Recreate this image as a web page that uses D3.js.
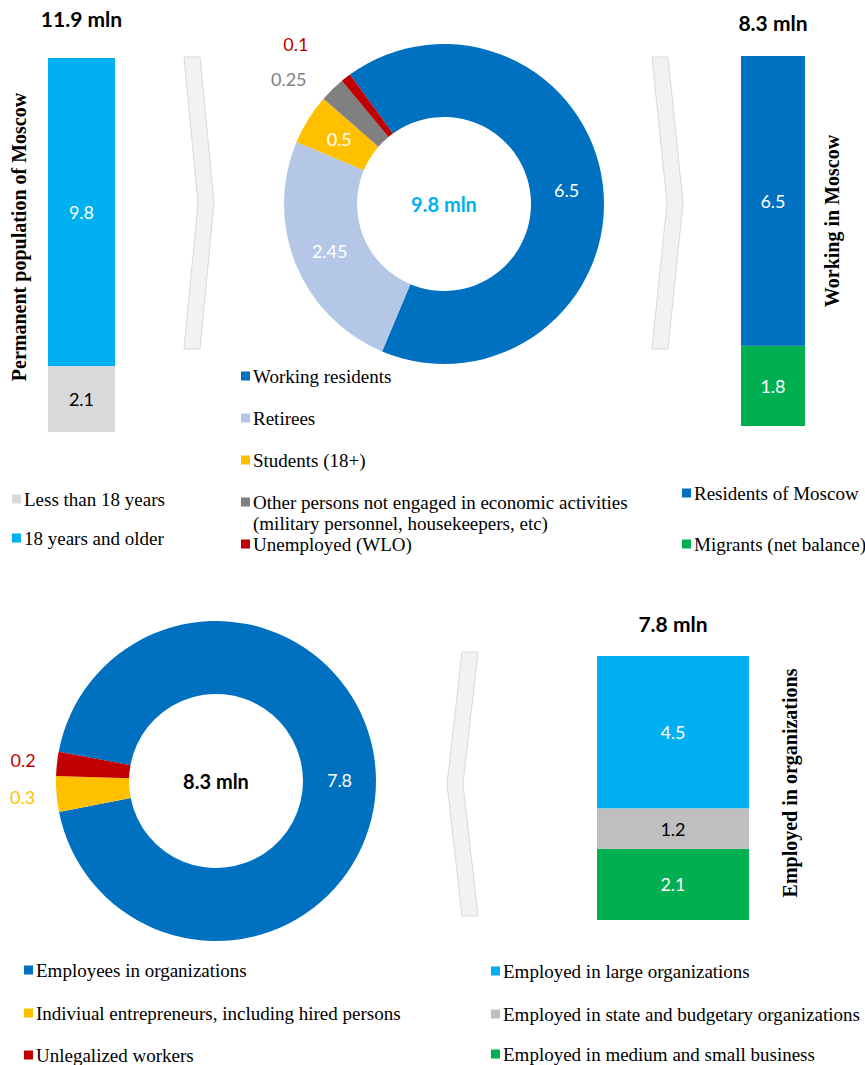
<!DOCTYPE html>
<html>
<head>
<meta charset="utf-8">
<script src="https://cdn.jsdelivr.net/npm/d3@7"></script>
<style>
  html, body { margin: 0; padding: 0; background: #fff; }
  svg { display: block; }
  .num { font-family: Lato, "Open Sans", sans-serif; }
  .serif, .serif text { font-family: "Liberation Serif", "Times New Roman", serif; }
</style>
</head>
<body>
<svg id="chart" width="865" height="1065"></svg>
<script>
// --- data ---
const popCats   = ['Less than 18 years', '18 years and older'];
const popVals   = [2.1, 9.8];
const popTotal  = '11.9 mln';

const actCats   = ['Working residents', 'Retirees', 'Students (18+)',
                   'Other persons not engaged in economic activities|(military personnel, housekeepers, etc)',
                   'Unemployed (WLO)'];
const actVals   = [6.5, 2.45, 0.5, 0.25, 0.1];
const actTotal  = '9.8 mln';

const workCats  = ['Residents of Moscow', 'Migrants (net balance)'];
const workVals  = [6.5, 1.8];
const workTotal = '8.3 mln';

const empCats   = ['Employees in organizations', 'Indiviual entrepreneurs, including hired persons', 'Unlegalized workers'];
const empVals   = [7.8, 0.3, 0.2];
const empTotal  = '8.3 mln';

const orgCats   = ['Employed in large organizations', 'Employed in state and budgetary organizations', 'Employed in medium and small business'];
const orgVals   = [4.5, 1.2, 2.1];
const orgTotal  = '7.8 mln';

// --- colours ---
const C = {
  blue: '#0070c0', cyan: '#00b0f0', lgray: '#d9d9d9', gray: '#bfbfbf', dgray: '#808080',
  steel: '#b4c7e7', yellow: '#ffc000', red: '#c00000', green: '#00b050'
};

const svg = d3.select('#chart');

// stacked single column, values listed bottom -> top
function column(vals, colors, textColors, o) {
  const y = d3.scaleLinear().domain([0, d3.sum(vals)]).range([o.bottom, o.top]);
  const g = svg.append('g');
  let acc = 0;
  const segs = vals.map((v, i) => { const s = { v, i, y0: acc, y1: acc + v }; acc += v; return s; });
  g.selectAll('rect').data(segs).join('rect')
    .attr('x', o.x).attr('width', o.w)
    .attr('y', d => y(d.y1)).attr('height', d => y(d.y0) - y(d.y1))
    .attr('fill', d => colors[d.i]);
  g.selectAll('text.val').data(segs).join('text')
    .attr('class', 'num val')
    .attr('x', o.x + o.w / 2).attr('y', d => (y(d.y0) + y(d.y1)) / 2)
    .attr('text-anchor', 'middle').attr('dominant-baseline', 'central')
    .attr('font-size', 18).attr('fill', d => textColors[d.i])
    .text(d => d.v);
  g.append('text').attr('class', 'num')
    .attr('x', o.x + o.w / 2).attr('y', o.titleY)
    .attr('text-anchor', 'middle').attr('font-size', 21).attr('font-weight', 700)
    .text(o.title);
  // rotated side label
  g.append('text').attr('class', 'serif')
    .attr('transform', `translate(${o.labelX},${o.labelY}) rotate(-90)`)
    .attr('text-anchor', 'middle').attr('dominant-baseline', 'central')
    .attr('font-size', 20).attr('font-weight', 700)
    .text(o.label);
}

function donut(vals, colors, o) {
  const rad = Math.PI / 180;
  const pie = d3.pie().sort(null).value(d => d)
    .startAngle(o.start * rad).endAngle(o.start * rad + 2 * Math.PI);
  const arc = d3.arc().innerRadius(o.ri).outerRadius(o.ro);
  const g = svg.append('g').attr('transform', `translate(${o.cx},${o.cy})`);
  const arcs = pie(vals);
  g.selectAll('path').data(arcs).join('path')
    .attr('d', arc).attr('fill', (d, i) => colors[i]);
  g.selectAll('text.val').data(arcs).join('text')
    .attr('class', 'num val')
    .attr('text-anchor', 'middle').attr('dominant-baseline', 'central')
    .attr('font-size', 18)
    .attr('fill', (d, i) => o.outside[i] ? colors[i] : '#fff')
    .attr('transform', (d, i) => {
      if (!o.outside[i]) return `translate(${arc.centroid(d)})`;
      const [dr, da] = o.outside[i];
      const a = (d.startAngle + d.endAngle) / 2 + da * rad;
      return `translate(${dr * Math.sin(a)},${-dr * Math.cos(a)})`;
    })
    .text(d => d.data);
  g.append('text').attr('class', 'num')
    .attr('text-anchor', 'middle').attr('dominant-baseline', 'central')
    .attr('font-size', 20).attr('font-weight', 700).attr('fill', o.centerColor)
    .text(o.center);
}

function chevron(x, y, w, h, dx) {
  // dx > 0 points right, dx < 0 points left
  const xt = dx > 0 ? x : x - dx;
  const pts = [[xt, y], [xt + w, y], [xt + w + dx, y + h / 2], [xt + w, y + h],
               [xt, y + h], [xt + dx, y + h / 2]];
  svg.append('path').attr('d', d3.line()(pts) + 'Z')
    .attr('fill', '#f2f2f2').attr('stroke', '#d9d9d9').attr('stroke-width', 1);
}

function legend(cats, colors, x, ys) {
  const g = svg.append('g').attr('class', 'serif');
  cats.forEach((c, i) => {
    const lines = c.split('|');
    g.append('rect').attr('x', x).attr('y', ys[i] - 4.5).attr('width', 9).attr('height', 9)
      .attr('fill', colors[i]);
    lines.forEach((ln, j) => {
      g.append('text').attr('x', x + 12).attr('y', ys[i] + j * 21)
        .attr('dominant-baseline', 'central').attr('font-size', 19).attr('fill', '#000')
        .text(ln);
    });
  });
}

// --- top row ---
column(popVals, [C.lgray, C.cyan], ['#000', '#fff'],
  { x: 48, w: 67, top: 58, bottom: 432, title: popTotal, titleY: 27,
    label: 'Permanent population of Moscow', labelX: 19, labelY: 237 });
chevron(184, 57, 16, 292, 14);

const actColors = [C.blue, C.steel, C.yellow, C.dgray, C.red];
donut(actVals, actColors,
  { cx: 444, cy: 204, ri: 87, ro: 160, start: -36,
    outside: [null, null, null, [199, -7], [218, -5]],
    center: actTotal, centerColor: C.cyan });
chevron(652, 57, 16, 292, 15);

const workColors = [C.blue, C.green];
column(workVals.slice().reverse(), workColors.slice().reverse(), ['#fff', '#fff'],
  { x: 741, w: 64, top: 56, bottom: 426, title: workTotal, titleY: 31,
    label: 'Working in Moscow', labelX: 832, labelY: 221 });

legend(actCats, actColors, 241, [376, 418, 460, 502, 544]);
legend(popCats, [C.lgray, C.cyan], 12, [499, 538]);
legend(workCats, workColors, 682, [493, 544]);

// --- bottom row ---
const empColors = [C.blue, C.yellow, C.red];
donut(empVals, empColors,
  { cx: 216, cy: 781, ri: 87, ro: 160, start: -79.5,
    outside: [null, [194, 0], [194, 0]],
    center: empTotal, centerColor: '#000' });
chevron(447, 652, 16, 264, -15);

const orgColors = [C.cyan, C.gray, C.green];
column(orgVals.slice().reverse(), orgColors.slice().reverse(), ['#fff', '#000', '#fff'],
  { x: 597, w: 152, top: 656, bottom: 920, title: orgTotal, titleY: 632,
    label: 'Employed in organizations', labelX: 790, labelY: 783 });

legend(empCats, empColors, 24, [970, 1013, 1055]);
legend(orgCats, orgColors, 491, [971, 1014, 1054]);
</script>
</body>
</html>
